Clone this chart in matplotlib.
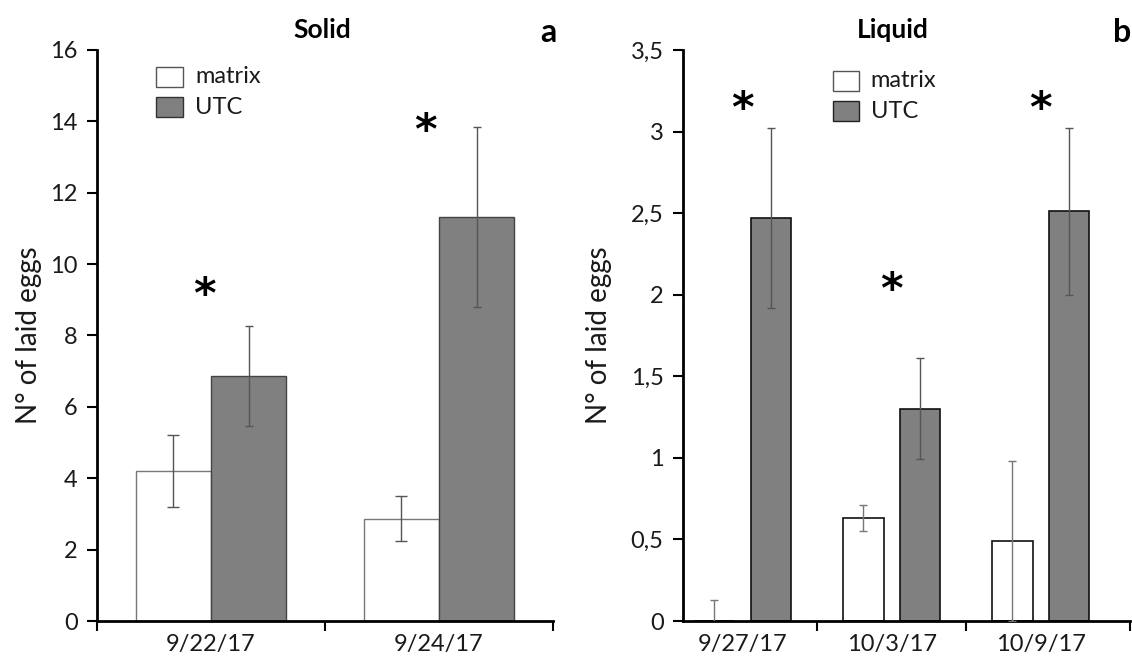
import matplotlib
matplotlib.use("Agg")
import matplotlib.pyplot as plt
import numpy as np
from matplotlib.patches import Rectangle

plt.rcParams['font.family'] = ['Lato', 'DejaVu Sans']

# Solid diet experiment
solid_dates = ["9/22/17", "9/24/17"]
solid_matrix = [4.2, 2.87]
solid_matrix_err = [1.0, 0.63]
solid_utc = [6.87, 11.33]
solid_utc_err = [1.4, 2.52]

# Liquid diet experiment
liquid_dates = ["9/27/17", "10/3/17", "10/9/17"]
liquid_matrix = [0.0, 0.63, 0.49]
liquid_matrix_err = [0.13, 0.08, 0.49]
liquid_utc = [2.47, 1.30, 2.51]
liquid_utc_err = [0.55, 0.31, 0.51]

UTC_COLOR = "#808080"
ERR_COLOR = "#555555"
TXT = "#1a1a1a"

fig = plt.figure(figsize=(11.32, 6.61), dpi=100)
ax_a = fig.add_axes([0.0857, 0.0605, 0.4028, 0.8639])
ax_b = fig.add_axes([0.6034, 0.0605, 0.3950, 0.8639])


def style_axis(ax, ymax, yticks, yticklabels, xlim, seps):
    ax.set_xlim(*xlim)
    ax.set_ylim(0, ymax)
    for s in ("top", "right"):
        ax.spines[s].set_visible(False)
    ax.spines["left"].set_linewidth(2)
    ax.spines["bottom"].set_linewidth(2)
    ax.set_yticks(yticks)
    ax.set_yticklabels(yticklabels)
    ax.tick_params(axis="y", direction="out", length=7, width=1.5, labelsize=17,
                   pad=7, labelcolor=TXT)
    # category separators as x ticks
    ax.set_xticks(seps)
    ax.set_xticklabels([])
    ax.tick_params(axis="x", which="major", direction="out", length=7, width=1.5)
    ax.tick_params(axis="x", which="minor", length=0, labelsize=17, pad=9, labelcolor=TXT)
    ax.set_ylabel("N° of laid eggs", fontsize=20, color=TXT)


# ---- panel a: Solid ----
n_a = len(solid_dates)
x_a = np.arange(n_a) + 0.5
w_a = 0.33
ax_a.bar(x_a - w_a / 2, solid_matrix, w_a, color="white", edgecolor="#777777", linewidth=1, zorder=2)
ax_a.bar(x_a + w_a / 2, solid_utc, w_a, color=UTC_COLOR, edgecolor="#444444", linewidth=1, zorder=2)
ax_a.errorbar(x_a - w_a / 2, solid_matrix, yerr=solid_matrix_err, fmt="none",
              ecolor=ERR_COLOR, elinewidth=1, capsize=4, capthick=1, zorder=3)
ax_a.errorbar(x_a + w_a / 2, solid_utc, yerr=solid_utc_err, fmt="none",
              ecolor=ERR_COLOR, elinewidth=1, capsize=3, capthick=1, zorder=3)
style_axis(ax_a, 16, np.arange(0, 17, 2), [str(v) for v in range(0, 17, 2)],
           (0, n_a), np.arange(0, n_a + 1))
ax_a.set_xticks(x_a, minor=True)
ax_a.set_xticklabels(solid_dates, minor=True)
ax_a.yaxis.set_label_coords(-0.12, 0.5)

for xs, ys in [(x_a[0] - 0.03, 9.1), (x_a[1] - 0.06, 13.7)]:
    ax_a.text(xs, ys, "*", fontsize=31, fontweight="bold", ha="center", va="center",
              family="DejaVu Sans")

ax_a.text(0.495, 1.035, "Solid", transform=ax_a.transAxes, ha="center", va="center",
          fontsize=19, fontweight="bold")
ax_a.text(0.99, 1.03, "a", transform=ax_a.transAxes, ha="center", va="center",
          fontsize=23, fontweight="bold")

# ---- panel b: Liquid ----
n_b = len(liquid_dates)
x_b = np.arange(n_b) + 0.5
w_b = 0.27
off_b = 0.19
xlim_b = (0.1, 3.1)
ax_b.bar(x_b - off_b, liquid_matrix, w_b, color="white", edgecolor="#111111", linewidth=1.2, zorder=2)
ax_b.bar(x_b + off_b, liquid_utc, w_b, color=UTC_COLOR, edgecolor="#111111", linewidth=1.2, zorder=2)
ax_b.errorbar(x_b - off_b, liquid_matrix, yerr=liquid_matrix_err, fmt="none",
              ecolor="#777777", elinewidth=1, capsize=3, capthick=1, zorder=3)
ax_b.errorbar(x_b + off_b, liquid_utc, yerr=liquid_utc_err, fmt="none",
              ecolor=ERR_COLOR, elinewidth=1, capsize=3, capthick=1, zorder=3)
style_axis(ax_b, 3.5, np.arange(0, 3.51, 0.5),
           ["0", "0,5", "1", "1,5", "2", "2,5", "3", "3,5"], xlim_b, [1, 2, xlim_b[1]])
ax_b.set_xticks(x_b, minor=True)
ax_b.set_xticklabels(liquid_dates, minor=True)
ax_b.yaxis.set_label_coords(-0.16, 0.5)

for xs, ys in [(x_b[0], 3.13), (x_b[1], 2.02), (x_b[2], 3.13)]:
    ax_b.text(xs, ys, "*", fontsize=31, fontweight="bold", ha="center", va="center",
              family="DejaVu Sans")

ax_b.text(0.47, 1.035, "Liquid", transform=ax_b.transAxes, ha="center", va="center",
          fontsize=19, fontweight="bold")
ax_b.text(0.983, 1.03, "b", transform=ax_b.transAxes, ha="center", va="center",
          fontsize=23, fontweight="bold")


def legend_boxes(ax, x0, y0, dy, edge_m, edge_u):
    for i, (lab, fc, ec) in enumerate([("matrix", "white", edge_m), ("UTC", UTC_COLOR, edge_u)]):
        y = y0 - i * dy
        ax.add_patch(Rectangle((x0, y), 0.058, 0.036, transform=ax.transAxes,
                               facecolor=fc, edgecolor=ec, linewidth=1, clip_on=False))
        ax.text(x0 + 0.085, y + 0.018, lab, transform=ax.transAxes, ha="left",
                va="center", fontsize=17, color=TXT)


legend_boxes(ax_a, 0.13, 0.935, 0.053, "#555555", "#333333")
legend_boxes(ax_b, 0.335, 0.928, 0.053, "#555555", "#222222")

fig.savefig("out.png", dpi=100)
